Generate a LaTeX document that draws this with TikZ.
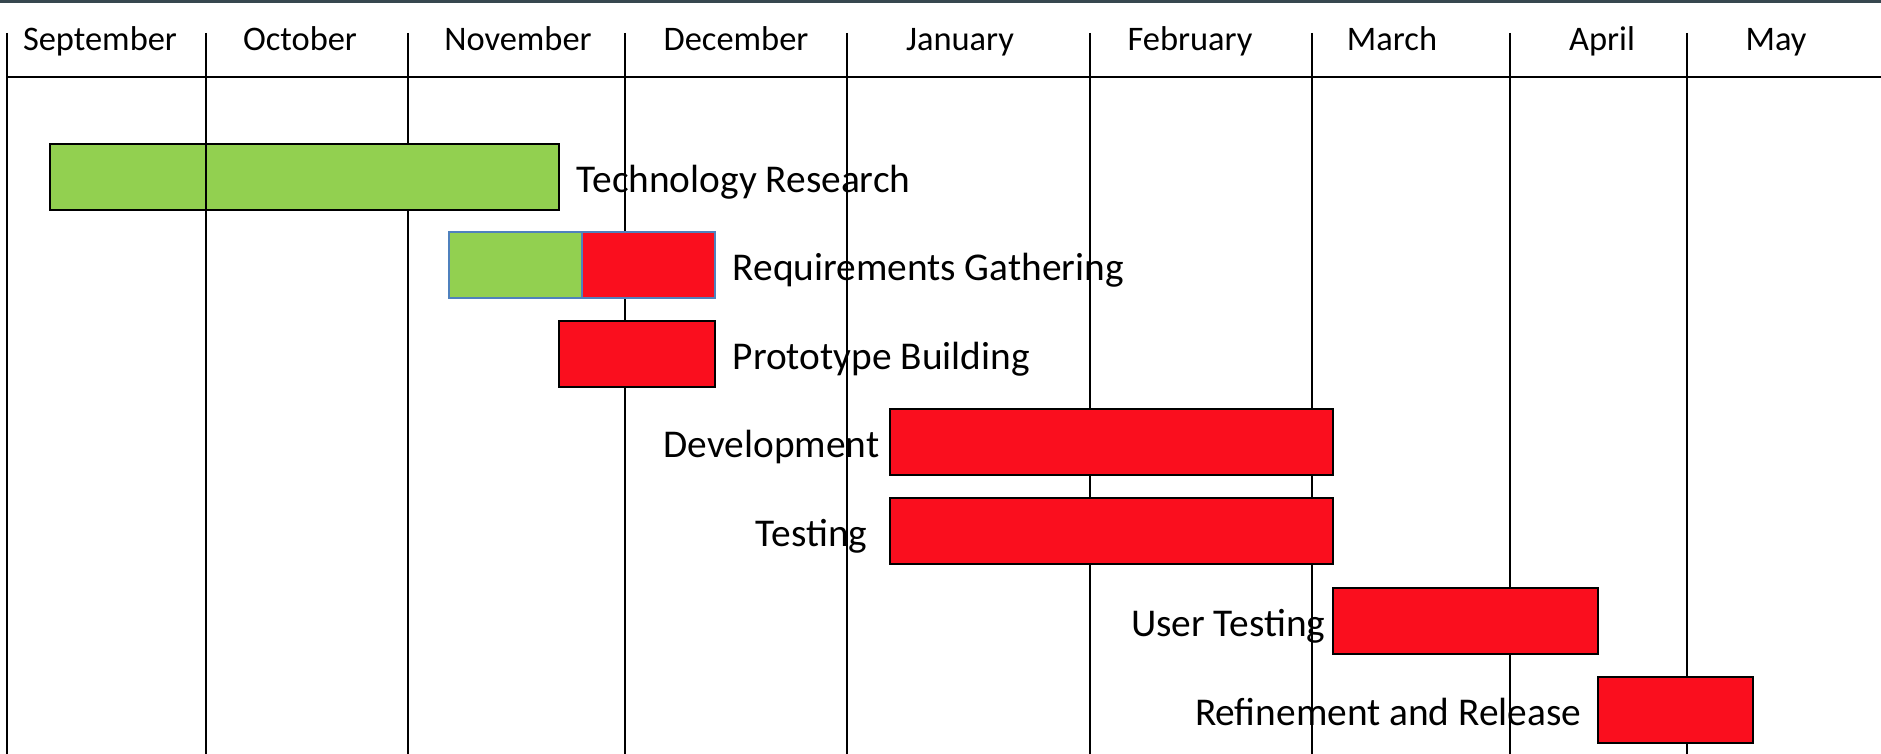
\documentclass[tikz,border=0pt]{standalone}
\usepackage{fontspec}
\setmainfont{Carlito}
\usetikzlibrary{positioning}

\definecolor{bargreen}{RGB}{146,208,80}
\definecolor{barred}{RGB}{250,14,30}
\definecolor{barblue}{RGB}{79,129,189}
\definecolor{topbar}{RGB}{55,71,79}

\tikzset{
  grid line/.style={black,line width=0.6pt},
  month/.style={font=\fontsize{9.8}{12}\selectfont,anchor=base,inner sep=0pt},
  task/.style={font=\fontsize{11.2}{13}\selectfont,inner sep=0pt},
  bar/.style={draw=black,line width=0.6pt}
}

\begin{document}
\begin{tikzpicture}
\useasboundingbox (0,0) rectangle (18.81,7.54);
\fill[white] (0,0) rectangle (18.81,7.54);
\fill[topbar] (0,7.505) rectangle (18.81,7.54);

% month columns
\draw[grid line] (0.07,7.21) -- (0.07,0);
\draw[grid line] (2.06,7.21) -- (2.06,0);
\draw[grid line] (4.08,7.21) -- (4.08,0);
\draw[grid line] (6.25,7.21) -- (6.25,0);
\draw[grid line] (8.47,7.21) -- (8.47,0);
\draw[grid line] (10.90,7.21) -- (10.90,0);
\draw[grid line] (13.12,7.21) -- (13.12,0);
\draw[grid line] (15.10,7.21) -- (15.10,0);
\draw[grid line] (16.87,7.21) -- (16.87,0);
\draw[grid line] (0.07,6.77) -- (18.81,6.77);

\node[month] (sep) at (1.00, 7.03) {September};
\node[month] (oct) at (3.00, 7.03) {October};
\node[month] (nov) at (5.18, 7.03) {November};
\node[month] (dec) at (7.36, 7.03) {December};
\node[month] (jan) at (9.60, 7.03) {January};
\node[month] (feb) at (11.90, 7.03) {February};
\node[month] (mar) at (13.92, 7.03) {March};
\node[month] (apr) at (16.02, 7.03) {April};
\node[month] (may) at (17.76, 7.03) {May};

% tasks
\draw[bar,fill=bargreen] (0.50,5.44) rectangle (5.59,6.10);
\draw[grid line] (2.06,5.44) -- (2.06,6.10);
\node[task,anchor=base west] (research) at (5.76, 5.61) {Technology Research};

\fill[bargreen] (4.49,4.56) rectangle (5.82,5.22);
\fill[barred] (5.82,4.56) rectangle (7.15,5.22);
\draw[barblue,line width=0.6pt] (4.49,4.56) rectangle (7.15,5.22);
\draw[barblue,line width=0.6pt] (5.82,4.56) -- (5.82,5.22);
\node[task,anchor=base west] (requirements) at (7.32, 4.73) {Requirements Gathering};

\draw[bar,fill=barred] (5.59,3.67) rectangle (7.15,4.33);
\node[task,anchor=base west] (prototype) at (7.32, 3.84) {Prototype Building};

\draw[bar,fill=barred] (8.90,2.79) rectangle (13.33,3.45);
\node[task,anchor=base east] (development) at (8.80, 2.96) {Development};

\draw[bar,fill=barred] (8.90,1.90) rectangle (13.33,2.56);
\node[task,anchor=base east] (testing) at (8.68, 2.07) {Testing};

\draw[bar,fill=barred] (13.33,1.00) rectangle (15.98,1.66);
\node[task,anchor=base east] (usertesting) at (13.26, 1.17) {User Testing};

\draw[bar,fill=barred] (15.98,0.11) rectangle (17.53,0.77);
\node[task,anchor=base east] (release) at (15.82, 0.28) {Refinement and Release};

\end{tikzpicture}
\end{document}
